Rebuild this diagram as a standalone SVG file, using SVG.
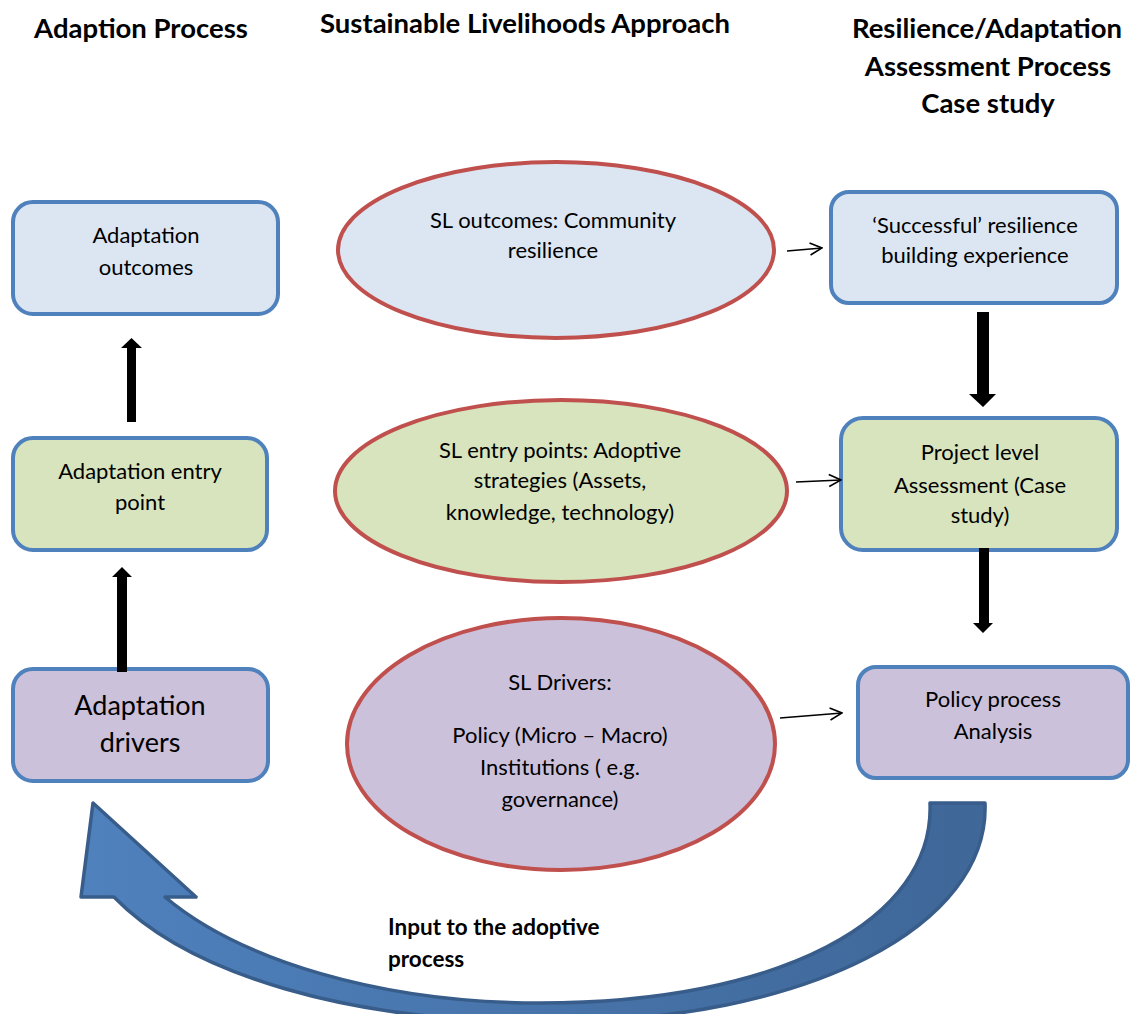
<svg xmlns="http://www.w3.org/2000/svg" width="1134" height="1014" viewBox="0 0 1134 1014">
<style>
text{font-family:Lato,"Liberation Sans",sans-serif;fill:#000;text-anchor:middle}
.t{font-size:27.5px;font-weight:bold}
.b{font-size:22px}
.big{font-size:27px}
.lbl{font-size:22.5px;font-weight:bold;text-anchor:start}
.box{stroke:#4F81BD;stroke-width:4}
.ell{stroke:#C0504D;stroke-width:4}
.blue{fill:#DCE6F2}
.green{fill:#D7E4BD}
.purple{fill:#CCC1DA}
.thin{stroke:#000;stroke-width:1.6;fill:none}
</style>
<defs>
<marker id="open" viewBox="0 0 14 14" refX="13" refY="7" markerWidth="14" markerHeight="14" markerUnits="userSpaceOnUse" orient="auto">
<path d="M1 1 L13 7 L1 13" fill="none" stroke="#000" stroke-width="1.6"/>
</marker>
<linearGradient id="cg" x1="0" y1="0" x2="1" y2="0">
<stop offset="0" stop-color="#4F81BD"/>
<stop offset="1" stop-color="#3F6798"/>
</linearGradient>
</defs>
<g id="titles">
<text class="t" x="141" y="38">Adaption Process</text>
<text class="t" x="525" y="33">Sustainable Livelihoods Approach</text>
<text class="t" x="987" y="38">Resilience/Adaptation</text>
<text class="t" x="988" y="76">Assessment Process</text>
<text class="t" x="988" y="113">Case study</text>
</g>
<g id="adaptation-outcomes">
<rect class="box blue" x="13" y="202" width="265" height="112" rx="20"/>
<text class="b" x="146" y="243">Adaptation</text>
<text class="b" x="146" y="275">outcomes</text>
</g>
<g id="adaptation-entry-point">
<rect class="box green" x="13" y="438" width="254" height="112" rx="20"/>
<text class="b" x="140" y="479">Adaptation entry</text>
<text class="b" x="140" y="510">point</text>
</g>
<g id="adaptation-drivers">
<rect class="box purple" x="13" y="669" width="255" height="112" rx="20"/>
<text class="big" x="140" y="715">Adaptation</text>
<text class="big" x="140" y="752">drivers</text>
</g>
<g id="sl-outcomes">
<ellipse class="ell blue" cx="556" cy="250" rx="218" ry="88"/>
<text class="b" x="553" y="228">SL outcomes: Community</text>
<text class="b" x="553" y="258">resilience</text>
</g>
<g id="sl-entry-points">
<ellipse class="ell green" cx="561" cy="491" rx="226" ry="91"/>
<text class="b" x="560" y="458">SL entry points: Adoptive</text>
<text class="b" x="560" y="488">strategies (Assets,</text>
<text class="b" x="560" y="520">knowledge, technology)</text>
</g>
<g id="sl-drivers">
<ellipse class="ell purple" cx="561" cy="744" rx="214" ry="126"/>
<text class="b" x="560" y="690">SL Drivers:</text>
<text class="b" x="560" y="743">Policy (Micro – Macro)</text>
<text class="b" x="560" y="775">Institutions ( e.g.</text>
<text class="b" x="560" y="807">governance)</text>
</g>
<g id="successful-experience">
<rect class="box blue" x="831" y="192" width="286" height="111" rx="18"/>
<text class="b" x="975" y="233">‘Successful’ resilience</text>
<text class="b" x="975" y="263">building experience</text>
</g>
<g id="project-level-assessment">
<rect class="box green" x="841" y="418" width="276" height="132" rx="22"/>
<text class="b" x="980" y="460">Project level</text>
<text class="b" x="980" y="493">Assessment (Case</text>
<text class="b" x="980" y="523">study)</text>
</g>
<g id="policy-process-analysis">
<rect class="box purple" x="858" y="667" width="270" height="111" rx="18"/>
<text class="b" x="993" y="707">Policy process</text>
<text class="b" x="993" y="739">Analysis</text>
</g>
<g id="connectors">
<path d="M127 422 V348 H121 L131.5 338 L142 348 H136 V422 Z" fill="#000"/>
<path d="M117 672 V577 H112 L122 567 L132 577 H127 V672 Z" fill="#000"/>
<path d="M977 312 V394 H969 L983 407 L996 394 H989 V312 Z" fill="#000"/>
<path d="M979 548 V623 H973 L983 633 L993 623 H989 V548 Z" fill="#000"/>
<line class="thin" x1="787" y1="251" x2="822" y2="248" marker-end="url(#open)"/>
<line class="thin" x1="796" y1="482" x2="841" y2="480" marker-end="url(#open)"/>
<line class="thin" x1="780" y1="718" x2="842" y2="713" marker-end="url(#open)"/>
<path d="M985 803 C990 925 810 1022 545 1022 C350 1022 190 975 114 897 L81 897 L93 803 L196 897 L165 897 C240 960 380 1003 540 1003 C780 1003 935 920 930 803 Z" fill="url(#cg)" stroke="#385D8A" stroke-width="3.5" stroke-linejoin="round"/>
</g>
<g id="curve-label">
<text class="lbl" x="388" y="935">Input to the adoptive</text>
<text class="lbl" x="388" y="967">process</text>
</g>
</svg>
